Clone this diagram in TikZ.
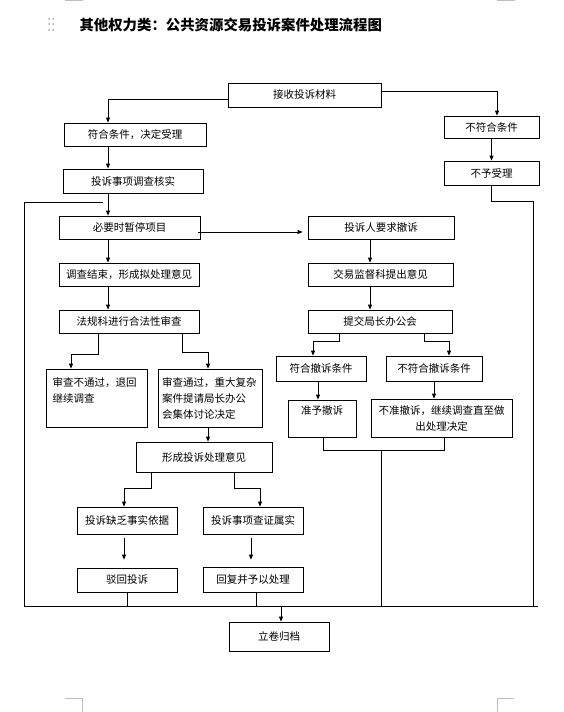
\documentclass[tikz,border=0pt]{standalone}
\usepackage{fontspec}
\newfontfamily\cjk{Noto Sans CJK SC}
\usetikzlibrary{arrows.meta,calc}

\begin{document}
\begin{tikzpicture}[x=1pt,y=-1pt,
  box/.style={draw,line width=0.8pt,inner sep=0pt,align=center,
    font=\cjk\fontsize{10.5}{16}\selectfont},
  arr/.style={-{Triangle[length=5pt,width=4pt]},line width=0.8pt},
  ln/.style={line width=0.8pt},
  pagemark/.style={draw=gray!50,line width=0.8pt}]
\useasboundingbox (0,0) rectangle (564,712);

% page furniture
\foreach \yy in {19,24,30} {
  \fill[gray!70] (49,\yy) circle (1pt);
  \fill[gray!70] (53,\yy) circle (1pt);
}
\draw[pagemark] (65,0.5) -- (83,0.5);
\draw[pagemark] (497,0.5) -- (515,0.5);
\draw[pagemark] (65,698) -- (82,698) -- (82,712);
\draw[pagemark] (514,698) -- (497,698) -- (497,712);

\node[anchor=west,font=\cjk\bfseries\fontsize{14.4}{16}\selectfont] (title) at (76,25)
  {其他权力类：公共资源交易投诉案件处理流程图};

% boxes
\node[box,minimum width=153pt,minimum height=24pt] (recv) at (304.5,95) {接收投诉材料};
\node[box,minimum width=142pt,minimum height=23pt] (ok) at (135,134.5) {符合条件，决定受理};
\node[box,minimum width=95pt,minimum height=22pt] (notok) at (491.5,127) {不符合条件};
\node[box,minimum width=95pt,minimum height=24pt] (reject) at (491.5,173) {不予受理};
\node[box,minimum width=140pt,minimum height=24pt] (verify) at (133,181) {投诉事项调查核实};
\node[box,minimum width=141pt,minimum height=23pt] (pause) at (129.5,227.5) {必要时暂停项目};
\node[box,minimum width=140pt,minimum height=23pt] (opinion) at (129,274.5) {调查结束，形成拟处理意见};
\node[box,minimum width=140pt,minimum height=23pt] (legal) at (129,321.5) {法规科进行合法性审查};
\node[box,minimum width=146pt,minimum height=23pt] (withdraw) at (381,227.5) {投诉人要求撤诉};
\node[box,minimum width=145pt,minimum height=23pt] (supervise) at (380.5,274.5) {交易监督科提出意见};
\node[box,minimum width=144pt,minimum height=23pt] (meeting) at (380,321.5) {提交局长办公会};
\node[box,minimum width=101pt,minimum height=58pt,text width=88pt,align=left] (fail) at (96.5,398)
  {审查不通过，退回\\继续调查\\~};
\node[box,minimum width=104pt,minimum height=58pt,text width=96pt,align=left] (pass) at (210,398)
  {审查通过，重大复杂\\案件提请局长办公\\会集体讨论决定};
\node[box,minimum width=136pt,minimum height=30pt] (form) at (204,457) {形成投诉处理意见};
\node[box,minimum width=90pt,minimum height=25pt] (agree) at (321,368.5) {符合撤诉条件};
\node[box,minimum width=96pt,minimum height=25pt] (disagree) at (434,368.5) {不符合撤诉条件};
\node[box,minimum width=68pt,minimum height=37pt] (allow) at (322,418.5) {准予撤诉\\~};
\node[box,minimum width=141pt,minimum height=38pt] (deny) at (441.5,418)
  {不准撤诉，继续调查直至做\\出处理决定};
\node[box,minimum width=100pt,minimum height=27pt] (lack) at (127,520.5) {投诉缺乏事实依据};
\node[box,minimum width=100pt,minimum height=27pt] (true) at (253,520.5) {投诉事项查证属实};
\node[box,minimum width=100pt,minimum height=24pt] (dismiss) at (127,580) {驳回投诉};
\node[box,minimum width=100pt,minimum height=25pt] (reply) at (253,579.5) {回复并予以处理};
\node[box,minimum width=100pt,minimum height=29pt] (archive) at (279,636.5) {立卷归档};

% axes and free ends
\coordinate (c1) at (108,0);
\coordinate (c2) at (370,0);
\coordinate (lt) at (103,202);
\coordinate (lb) at (24,606);
\coordinate (re) at (538,606);
\coordinate (rb) at (533,606);
\coordinate (m1) at (381,450);
\coordinate (a1) at (281,606);

% connectors
\draw[arr] ($(recv.west)+(0,4)$) -| (ok.north -| c1);
\draw[arr] ($(recv.east)+(0,-4)$) -| ($(notok.north)+(5.5,0)$);
\draw[arr] (notok) -- (reject);
\draw[ln] (reject.south) -- ++(0,16) -| (rb);
\draw[arr] (ok.south -| c1) -- (verify.north -| c1);
\draw[arr] (verify.south -| c1) -- (pause.north -| c1);
\draw[ln] (lt) -| (lb);
\draw[ln] (lb) -- (re);
\draw[arr] (pause.south -| c1) -- (opinion.north -| c1);
\draw[arr] (opinion.south -| c1) -- (legal.north -| c1);
\draw[arr] ($(pause.east)+(-2,4.5)$) -- ($(withdraw.west)+(-5,4.5)$);
\draw[arr] (withdraw.south -| c2) -- (supervise.north -| c2);
\draw[arr] (supervise.south -| c2) -- (meeting.north -| c2);

\draw[arr] ($(legal.south)+(-31,0)$) -- ++(0,21) -| ($(fail.north)+(-25.5,0)$);
\draw[arr] ($(legal.south)+(53,0)$) -- ++(0,19) -| ($(pass.north)+(-2,0)$);
\draw[arr] ($(pass.south)+(-2,0)$) -- ($(form.north)+(4,0)$);

\draw[arr] ($(meeting.south)+(-41,0)$) -- ++(0,8) -| ($(agree.north)+(-8,0)$);
\draw[arr] ($(meeting.south)+(44,0)$) -- ++(0,8) -| ($(disagree.north)+(15,0)$);
\draw[arr] ($(agree.south)+(-3,0)$) -- ($(allow.north)+(-4,0)$);
\draw[arr] (disagree.south) -- (deny.north -| disagree.south);
\draw[ln] ($(allow.south)+(1,0)$) -- ++(0,13) -| ($(deny.south)+(2.5,0)$);
\draw[ln] (m1) -- (m1 |- lb);

\draw[arr] ($(form.south)+(-53,0)$) -- ++(0,16) -| ($(lack.north)+(-3,0)$);
\draw[arr] ($(form.south)+(30,0)$) -- ++(0,16) -| ($(true.north)+(7,0)$);
\draw[arr,shorten <=4pt,shorten >=8pt] ($(lack.south)+(-3,0)$) -- ($(dismiss.north)+(-3,0)$);
\draw[arr,shorten <=4pt,shorten >=7pt] ($(true.south)+(-2,0)$) -- ($(reply.north)+(-2,0)$);
\draw[ln] (dismiss.south) -- (dismiss.south |- lb);
\draw[ln] ($(reply.south)+(3,0)$) -- ($(reply.south |- lb)+(3,0)$);
\draw[arr] (a1) -- (a1 |- archive.north);
\end{tikzpicture}
\end{document}
